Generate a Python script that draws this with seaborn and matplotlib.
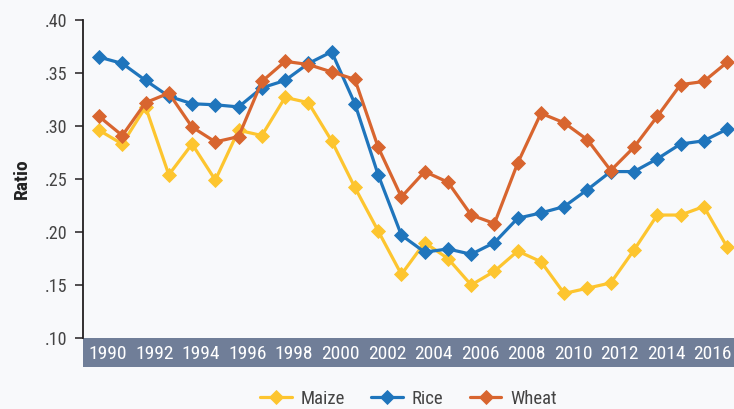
import matplotlib
matplotlib.use("Agg")
import pandas as pd
import matplotlib.pyplot as plt
import seaborn as sns
from matplotlib.patches import Rectangle
from matplotlib.ticker import FuncFormatter

# Years shown on the chart
years = list(range(1990, 2018))

# Ratio values
maize = [.296, .283, .318, .254, .283, .249, .296, .291, .327, .322,
         .286, .242, .201, .160, .190, .175, .150, .163, .182, .172,
         .142, .147, .152, .183, .216, .216, .224, .186]
rice = [.365, .359, .343, .328, .321, .320, .318, .336, .343, .359,
        .370, .321, .254, .197, .181, .184, .179, .190, .213, .218,
        .224, .240, .257, .257, .269, .283, .286, .297]
wheat = [.309, .291, .322, .331, .299, .285, .290, .342, .361, .358,
         .351, .344, .280, .233, .257, .247, .216, .208, .265, .312,
         .303, .287, .258, .280, .309, .339, .342, .360]

crops = ['Maize', 'Rice', 'Wheat']
tick_years = list(range(1990, 2017, 2))

colors = {'Maize': '#FDC52F', 'Rice': '#1F75BC', 'Wheat': '#D8652F'}
bg = '#F8F9FB'
band = '#707E98'

df = pd.DataFrame({'year': years * 3,
                   'ratio': maize + rice + wheat,
                   'crop': sum([[c] * len(years) for c in crops], [])})

sns.set_style('white')
plt.rcParams['font.family'] = ['Roboto Condensed', 'DejaVu Sans']

fig = plt.figure(figsize=(7.34, 4.09), dpi=100, facecolor=bg)
ax = fig.add_axes([83 / 734, 1 - 338 / 409, 1 - 83 / 734, 318 / 409])
ax.set_facecolor(bg)

sns.lineplot(data=df, x='year', y='ratio', hue='crop', style='crop',
             markers=['D', 'D', 'D'], dashes=False, palette=colors,
             linewidth=2.3, markersize=7.3, ax=ax)
for line in ax.lines:
    line.set_markeredgecolor(line.get_color())
    line.set_markeredgewidth(0.6)

ax.set_xlim(1989.31, 2017.3)
ax.set_ylim(0.10, 0.40)
ax.set_yticks([.10, .15, .20, .25, .30, .35, .40])
ax.yaxis.set_major_formatter(FuncFormatter(lambda v, p: ('%.2f' % v)[1:]))
ax.set_xticks([y + 0.38 for y in tick_years])
ax.set_xticklabels([str(y) for y in tick_years])

for s in ['top', 'right', 'bottom']:
    ax.spines[s].set_visible(False)
ax.spines['left'].set_color('#231F20')
ax.spines['left'].set_linewidth(1.3)

ax.tick_params(axis='y', left=True, length=6, width=1.1, color='#231F20',
               pad=5, labelsize=13, labelcolor='#444444')
ax.tick_params(axis='x', bottom=False, length=0, pad=11.5,
               labelsize=14, labelcolor='white')
for lbl in ax.get_xticklabels():
    lbl.set_va('center')

# slate band behind the year labels
ax.add_patch(Rectangle((0, -29 / 318), 1, 29 / 318, transform=ax.transAxes,
                       facecolor=band, edgecolor='none', clip_on=False, zorder=0))

ax.set_xlabel('')
ax.set_ylabel('Ratio', fontsize=14, fontweight='bold', color='#222222', labelpad=10)

handles, labels = ax.get_legend_handles_labels()
ax.legend(handles=handles, labels=labels, loc='center', bbox_to_anchor=(0.5, -0.192),
          ncol=3, frameon=False, fontsize=13.5, handlelength=1.7, handletextpad=0.45,
          columnspacing=1.4, labelcolor='#444444')

fig.savefig('out.png', dpi=100, facecolor=bg)
